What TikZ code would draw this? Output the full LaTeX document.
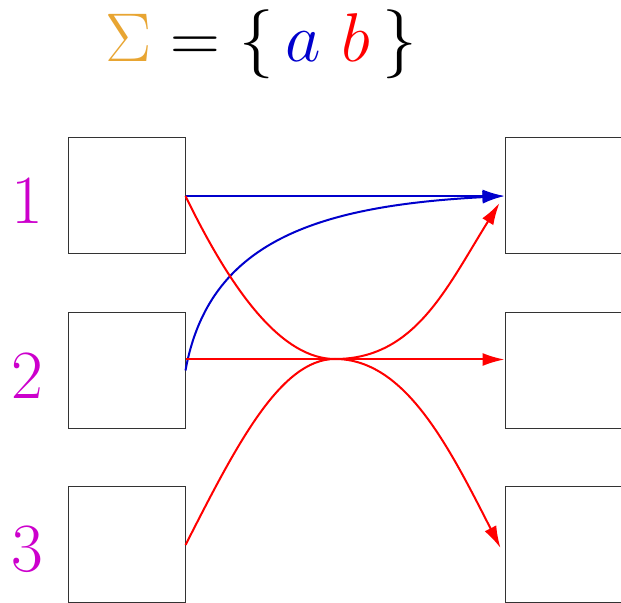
\documentclass[tikz,border=0pt]{standalone}
\usetikzlibrary{arrows.meta}
\definecolor{sigcol}{RGB}{232,165,50}
\definecolor{labcol}{RGB}{204,0,204}
\definecolor{acol}{RGB}{0,0,204}
\definecolor{bcol}{RGB}{255,0,0}
\tikzset{
  statebox/.style={draw=black!80, line width=0.5pt, minimum width=58.5pt, minimum height=58pt, inner sep=0pt},
  bigtext/.style={font=\Huge, scale=1.387, transform shape, inner sep=0pt},
  numlabel/.style={bigtext, text=labcol},
  edgea/.style={draw=acol, line width=1pt, -{Latex[length=11pt,width=6.5pt]}},
  edgeb/.style={draw=bcol, line width=1pt, -{Latex[length=11pt,width=6.5pt]}},
}
\begin{document}
\begin{tikzpicture}[x=0.5pt,y=-0.5pt]
\useasboundingbox (0,0) rectangle (621,603);
\node[bigtext, anchor=base west] (title) at (105,62)
  {$\color{sigcol}\Sigma\color{black} = \{\,{\color{acol}a}\ {\color{bcol}b}\,\}$};
\node[statebox] (l1) at (126.5,196) {};
\node[statebox] (l2) at (126.5,370.5) {};
\node[statebox] (l3) at (126.5,545) {};
\node[statebox] (r1) at (563.5,196) {};
\node[statebox] (r2) at (563.5,370.5) {};
\node[statebox] (r3) at (563.5,545) {};
\node[numlabel] (n1) at (27,201) {1};
\node[numlabel] (n2) at (27.5,375.5) {2};
\node[numlabel] (n3) at (27,549) {3};
\coordinate (m) at (335,359);
% a-transitions
\draw[edgea] (l1.east) -- (r1.west);
\draw[edgea] (l2.east) .. controls +(23,-128) and +(-190,10) .. (r1.west);
% b-transitions
\draw[edgeb] ([yshift=5.5pt]l2.east) -- ([yshift=5.5pt]r2.west);
\draw[edgeb] (l1.east) .. controls +(48,99) and +(-52,0) .. (m)
  .. controls +(80,0) and +(-53,85) .. ([xshift=-2.5pt,yshift=-3.5pt]r1.west);
\draw[edgeb] (l3.east) .. controls +(50,-98) and +(-55,0) .. (m)
  .. controls +(70,0) and +(-52,-102) .. ([xshift=-2pt,yshift=-1.5pt]r3.west);
\end{tikzpicture}
\end{document}
